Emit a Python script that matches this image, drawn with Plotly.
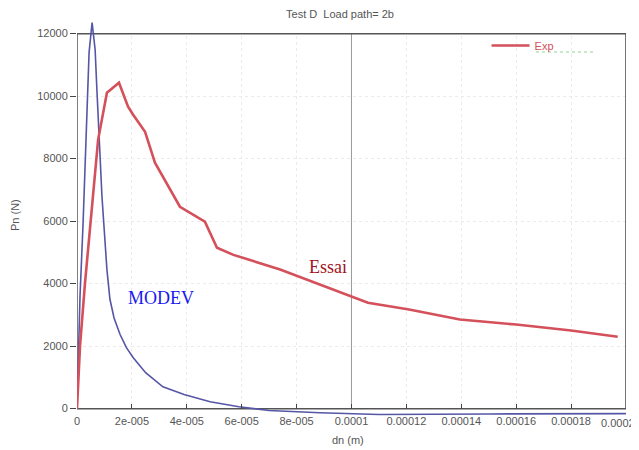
import plotly.graph_objects as go

# ---- data ----
exp_x = [0, 1.1e-6, 2.9e-6, 5.8e-6, 7.7e-6, 1.09e-5, 1.53e-5, 1.86e-5, 2.04e-5, 2.48e-5,
         2.84e-5, 3.75e-5, 4.66e-5, 5.1e-5, 5.7e-5, 7.4e-5, 8.85e-5, 1.0e-4, 1.06e-4,
         1.21e-4, 1.395e-4, 1.6e-4, 1.8e-4, 1.97e-4]
exp_y = [0, 2000, 4000, 6780, 8610, 10110, 10430, 9660, 9410, 8860,
         7870, 6460, 5980, 5150, 4920, 4450, 3970, 3580, 3390,
         3170, 2850, 2690, 2500, 2300]

modev_x = [0, 1.1e-6, 2.2e-6, 3.3e-6, 4.4e-6, 5.5e-6, 6.6e-6, 7.3e-6, 8.0e-6, 9.1e-6,
           1.09e-5, 1.2e-5, 1.35e-5, 1.57e-5, 1.8e-5, 2.05e-5, 2.5e-5, 2.9e-5, 3.13e-5,
           3.9e-5, 4.85e-5, 5.9e-5, 7.0e-5, 8.85e-5, 1.1e-4, 1.5e-4, 2.0e-4]
modev_y = [0, 3600, 5900, 8900, 11400, 12350, 11490, 10110, 8930, 6780,
           4450, 3500, 2900, 2370, 1950, 1630, 1150, 860, 700,
           450, 220, 60, -60, -130, -190, -170, -160]

x_ticks = [0, 2e-5, 4e-5, 6e-5, 8e-5, 1e-4, 1.2e-4, 1.4e-4, 1.6e-4, 1.8e-4, 2e-4]
x_tick_text = ["0", "2e-005", "4e-005", "6e-005", "8e-005", "0.0001", "0.00012",
               "0.00014", "0.00016", "0.00018", "0.0002"]
y_ticks = [0, 2000, 4000, 6000, 8000, 10000, 12000]
y_tick_text = ["0", "2000", "4000", "6000", "8000", "10000", "12000"]

title_text = "Test D  Load path= 2b"
x_title = "dn (m)"
y_title = "Pn (N)"

X_RANGE = [0, 2.0002e-4]
X_END = 2e-4
Y_RANGE = [-300, 12500]
Y_TOP = 12000
zero_pos = (0 - Y_RANGE[0]) / (Y_RANGE[1] - Y_RANGE[0])
top_pos = (Y_TOP - Y_RANGE[0]) / (Y_RANGE[1] - Y_RANGE[0])

# the page body adds an 8px offset; the figure is sized to compensate
W, H, OFF = 631, 442, 8
PL, PR, PT, PB = 69, 13, 10, 32   # plot area in window: x 77..626, y 18..418

tick_font = dict(family="Liberation Sans, Arial, sans-serif", size=11, color="#555555")

fig = go.Figure()
fig.add_trace(go.Scatter(x=modev_x, y=modev_y, mode="lines", name="MODEV",
                         line=dict(color="#5656a6", width=1.6), showlegend=False))
fig.add_trace(go.Scatter(x=exp_x, y=exp_y, mode="lines", name="Exp",
                         line=dict(color="#d4505a", width=2.6)))

fig.update_layout(
    width=W, height=H,
    margin=dict(l=PL, r=PR, t=PT, b=PB, autoexpand=False),
    paper_bgcolor="white", plot_bgcolor="white",
    title=dict(text=title_text, x=(340 - OFF) / W, xanchor="center", y=1 - (14 - OFF) / H,
               yanchor="middle", font=dict(family="Liberation Sans, Arial, sans-serif",
                                           size=11, color="#555555")),
    xaxis=dict(range=X_RANGE, tickvals=x_ticks, ticktext=x_tick_text,
               anchor="free", position=zero_pos, ticks="inside", ticklen=5,
               tickcolor="#444444", tickfont=tick_font, showline=False,
               showgrid=True, gridcolor="#ebebeb", griddash="dot", gridwidth=1,
               zeroline=False, ticklabelstandoff=4, automargin=False),
    yaxis=dict(range=Y_RANGE, tickvals=y_ticks, ticktext=y_tick_text,
               ticks="outside", ticklen=6, tickcolor="#444444", tickfont=tick_font,
               showline=False, showgrid=True, gridcolor="#ebebeb", griddash="dot",
               gridwidth=1, zeroline=False, automargin=False),
    xaxis2=dict(range=X_RANGE, tickvals=x_ticks, overlaying="x", side="top",
                anchor="free", position=top_pos, ticks="inside", ticklen=5,
                tickcolor="#444444", showticklabels=False, showgrid=False,
                zeroline=False, showline=False, automargin=False),
    yaxis2=dict(range=Y_RANGE, tickvals=y_ticks, overlaying="y", side="right",
                anchor="x", ticks="inside", ticklen=5, tickcolor="#444444",
                showticklabels=False, showgrid=False, zeroline=False, showline=False,
                automargin=False),
    legend=dict(x=0.746, y=0.9675, xanchor="left", yanchor="top", itemwidth=38,
                bgcolor="rgba(0,0,0,0)", font=dict(family="Liberation Sans, Arial, sans-serif",
                                                   size=11, color="#d4505a")),
    showlegend=True,
)

# hide gridlines above the frame (under the traces)
fig.add_shape(type="rect", xref="x", yref="y", x0=X_RANGE[0], x1=X_RANGE[1],
              y0=Y_TOP, y1=Y_RANGE[1], fillcolor="white", line_width=0, layer="between")
# hide gridlines below zero
fig.add_shape(type="rect", xref="x", yref="y", x0=X_RANGE[0], x1=X_RANGE[1],
              y0=Y_RANGE[0], y1=0, fillcolor="white", line_width=0, layer="between")
# darker reference line at 0.0001
fig.add_shape(type="line", xref="x", yref="y", x0=1e-4, x1=1e-4, y0=0, y1=Y_TOP,
              line=dict(color="#9a9a9a", width=1), layer="between")
# frame
fig.add_shape(type="rect", xref="x", yref="y", x0=X_RANGE[0], x1=X_END,
              y0=0, y1=Y_TOP, line=dict(color="#555555", width=1.5), layer="between")
# faint green dotted line under legend
fig.add_shape(type="line", xref="paper", yref="paper", x0=0.836, x1=0.94, y0=0.915, y1=0.915,
              line=dict(color="#8fd48f", width=1, dash="dot"))

# last x tick label (plotly drops it because it overflows the page), kept inside the page
fig.add_annotation(text=x_tick_text[-1], x=x_ticks[-1], y=0, xref="x", yref="y",
                   showarrow=False, xanchor="right", yanchor="middle", yshift=-14,
                   xshift=11, font=tick_font)

fig.add_annotation(text="MODEV", x=3.06e-5, y=3550, xref="x", yref="y", showarrow=False,
                   font=dict(family="Liberation Serif, Times New Roman, serif", size=18,
                             color="#1818f0"))
fig.add_annotation(text="Essai", x=9.14e-5, y=4540, xref="x", yref="y", showarrow=False,
                   font=dict(family="Liberation Serif, Times New Roman, serif", size=18,
                             color="#a0141e"))
fig.add_annotation(text=x_title, x=(348 - 77) / 549, y=(418 - 440) / 400, xref="paper",
                   yref="paper", showarrow=False, xanchor="center", yanchor="middle",
                   font=dict(family="Liberation Sans, Arial, sans-serif", size=11,
                             color="#555555"))
fig.add_annotation(text=y_title, x=(15 - 77) / 549, y=(418 - 215) / 400, xref="paper",
                   yref="paper", showarrow=False, textangle=-90, xanchor="center",
                   yanchor="middle",
                   font=dict(family="Liberation Sans, Arial, sans-serif", size=11,
                             color="#555555"))

fig.write_html("out.html")
